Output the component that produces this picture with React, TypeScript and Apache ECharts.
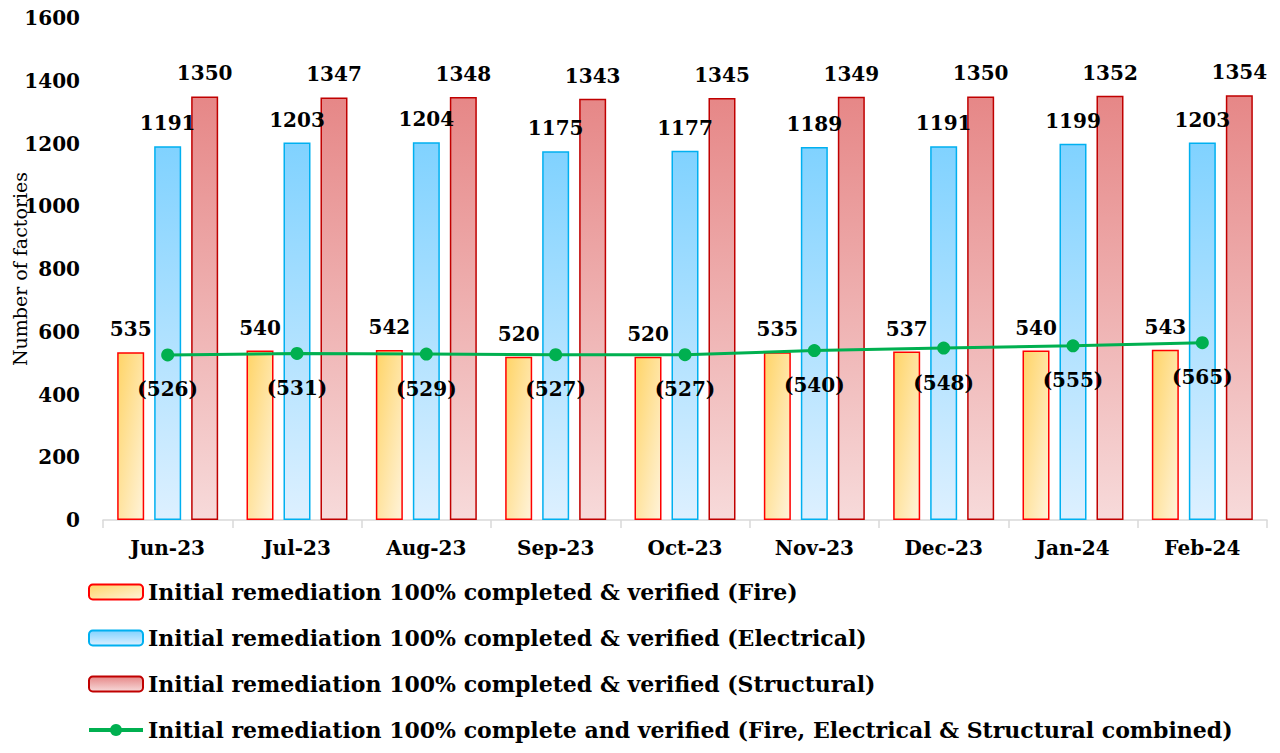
import React, { useEffect, useRef } from "react";
import * as echarts from "echarts";

const categories = ["Jun-23", "Jul-23", "Aug-23", "Sep-23", "Oct-23", "Nov-23", "Dec-23", "Jan-24", "Feb-24"];
const fireValues = [535, 540, 542, 520, 520, 535, 537, 540, 543];
const electricalValues = [1191, 1203, 1204, 1175, 1177, 1189, 1191, 1199, 1203];
const structuralValues = [1350, 1347, 1348, 1343, 1345, 1349, 1350, 1352, 1354];
const combinedValues = [526, 531, 529, 527, 527, 540, 548, 555, 565];

const seriesNames = [
  "Initial remediation 100% completed & verified (Fire)",
  "Initial remediation 100% completed & verified (Electrical)",
  "Initial remediation 100% completed & verified (Structural)",
  "Initial remediation 100% complete and verified (Fire, Electrical & Structural combined)",
];

const FONT = "'DejaVu Serif', 'Liberation Serif', serif";

export default function App() {
  const ref = useRef<HTMLDivElement>(null);
  useEffect(() => {
    if (!ref.current) return;
    const chart = echarts.init(ref.current, undefined, { renderer: "svg" });
    const grad = (a: string, b: string, diag = false) =>
      new echarts.graphic.LinearGradient(0, 0, diag ? 1 : 0, 1, [
        { offset: 0, color: a },
        { offset: 1, color: b },
      ]);
    const barLabel = {
      show: true,
      position: "top" as const,
      distance: 13,
      fontFamily: FONT,
      fontWeight: "bold" as const,
      fontSize: 20,
      color: "#000",
    };
    chart.setOption({
      animation: false,
      backgroundColor: "#fff",
      grid: { left: 103, right: 13, top: 18, bottom: 233, containLabel: false, outerBoundsMode: "none" },
      legend: {
        orient: "vertical",
        left: 82,
        top: 576,
        itemWidth: 54,
        itemHeight: 15,
        itemGap: 24,
        textStyle: { fontFamily: FONT, fontWeight: "bold", fontSize: 22, color: "#000" },
        data: [
          { name: seriesNames[0] },
          { name: seriesNames[1] },
          { name: seriesNames[2] },
          { name: seriesNames[3], lineStyle: { width: 4 } },
        ],
      },
      xAxis: {
        type: "category",
        data: categories,
        boundaryGap: true,
        axisLine: { lineStyle: { color: "#D9D9D9", width: 1.5 } },
        axisTick: { show: true, length: 8, lineStyle: { color: "#D9D9D9", width: 1.5 } },
        axisLabel: { margin: 18, fontFamily: FONT, fontWeight: "bold", fontSize: 20, color: "#000" },
      },
      yAxis: {
        type: "value",
        min: 0,
        max: 1600,
        interval: 200,
        name: "Number of factories",
        nameLocation: "middle",
        nameGap: 74,
        nameMoveOverlap: false,
        nameTextStyle: { fontFamily: FONT, fontSize: 19, color: "#000" },
        splitLine: { show: false },
        axisLine: { show: false },
        axisTick: { show: false },
        axisLabel: {
          margin: 23,
          formatter: (v: number) => String(v),
          fontFamily: FONT,
          fontWeight: "bold",
          fontSize: 20,
          color: "#000",
        },
      },
      series: [
        {
          name: seriesNames[0],
          type: "bar",
          data: fireValues,
          barWidth: 27,
          barGap: "37%",
          itemStyle: { color: grad("#FFD467", "#FFF3DA", true), borderColor: "#FF0000", borderWidth: 1.5 },
          label: barLabel,
        },
        {
          name: seriesNames[1],
          type: "bar",
          data: electricalValues,
          barWidth: 27,
          barGap: "37%",
          itemStyle: { color: grad("#80D2FF", "#DDF0FF"), borderColor: "#00B0F0", borderWidth: 1.5 },
          label: barLabel,
        },
        {
          name: seriesNames[2],
          type: "bar",
          data: structuralValues,
          barWidth: 27,
          barGap: "37%",
          itemStyle: { color: grad("#E68787", "#F7DADA"), borderColor: "#C00000", borderWidth: 1.5 },
          label: barLabel,
        },
        {
          name: seriesNames[3],
          type: "line",
          data: combinedValues,
          symbol: "circle",
          symbolSize: 13,
          lineStyle: { color: "#00B050", width: 3 },
          itemStyle: { color: "#00B050" },
          label: {
            show: true,
            position: "bottom",
            distance: 18,
            formatter: (p: any) => `(${p.value})`,
            fontFamily: FONT,
            fontWeight: "bold",
            fontSize: 20,
            color: "#000",
          },
          z: 5,
        },
      ],
    });
    return () => chart.dispose();
  }, []);
  return <div ref={ref} style={{ width: 1280, height: 753, position: "absolute", left: 0, top: 0 }} />;
}
